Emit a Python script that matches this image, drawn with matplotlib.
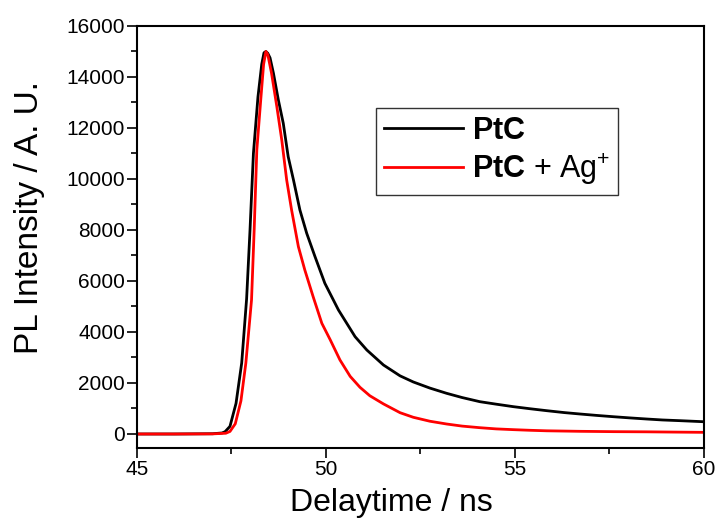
import matplotlib
matplotlib.use("Agg")
import matplotlib.pyplot as plt
from matplotlib.ticker import MultipleLocator

# Values
t_ptc = [45.0, 46.0, 47.0, 47.25, 47.33, 47.46, 47.62, 47.77, 47.90, 47.99, 48.08,
         48.20, 48.30, 48.36, 48.41, 48.46, 48.52, 48.61, 48.74, 48.87, 49.00,
         49.14, 49.31, 49.49, 49.71, 49.97, 50.33, 50.77, 51.08, 51.52, 51.96,
         52.31, 52.75, 53.19, 53.60, 54.07, 54.50, 54.96, 55.40, 55.84, 56.30,
         56.72, 57.15, 57.60, 58.05, 58.48, 58.90, 59.37, 59.98]
i_ptc = [0, 0, 10, 40, 90, 300, 1200, 2784, 5300, 8000, 11000,
         13216, 14500, 14950, 15000, 14930, 14750, 14145, 13098, 12184, 10875,
         9961, 8784, 7871, 6953, 5910, 4863, 3816, 3294, 2706, 2280,
         2040, 1800, 1596, 1430, 1267, 1170, 1071, 990, 914, 840,
         784, 730, 678, 630, 588, 550, 522, 482]

t_ag = [45.0, 46.0, 47.0, 47.35, 47.46, 47.60, 47.75, 47.88, 48.03, 48.10, 48.17,
        48.28, 48.35, 48.41, 48.46, 48.56, 48.70, 48.83, 48.96, 49.09, 49.27,
        49.44, 49.66, 49.89, 50.11, 50.37, 50.64, 50.90, 51.16, 51.52, 51.96,
        52.31, 52.75, 53.19, 53.60, 54.07, 54.50, 54.96, 55.40, 55.84, 56.72,
        57.60, 58.48, 59.20, 59.98]
i_ag = [0, 0, 5, 30, 100, 400, 1300, 2784, 5255, 8000, 11137,
        13216, 14500, 15000, 14880, 14145, 12835, 11529, 9961, 8784, 7345,
        6431, 5385, 4341, 3700, 2902, 2260, 1830, 1500, 1180, 835,
        655, 500, 392, 310, 247, 200, 170, 145, 125, 105,
        92, 85, 75, 65]

plt.rcParams["font.family"] = ["Liberation Sans", "DejaVu Sans"]
plt.rcParams["mathtext.fontset"] = "custom"
plt.rcParams["mathtext.rm"] = "Liberation Sans"
plt.rcParams["mathtext.bf"] = "Liberation Sans:bold"

fig = plt.figure(figsize=(7.21, 5.24), dpi=100)
ax = fig.add_axes([0.19, 0.145, 0.7864, 0.8054])

ax.plot(t_ptc, i_ptc, color="black", lw=2.0, label=r"$\mathbf{PtC}$")
ax.plot(t_ag, i_ag, color="red", lw=2.0, label=r"$\mathbf{PtC}$ + Ag$^{+}$")

ax.set_xlim(45, 60)
ax.set_ylim(-550, 16000)
ax.xaxis.set_major_locator(MultipleLocator(5))
ax.xaxis.set_minor_locator(MultipleLocator(2.5))
ax.yaxis.set_major_locator(MultipleLocator(2000))
ax.yaxis.set_minor_locator(MultipleLocator(1000))
ax.tick_params(which="both", direction="out", top=False, right=False,
               width=1.2, labelsize=15)
ax.tick_params(which="major", length=7, pad=1.5)
ax.tick_params(which="minor", length=4)
for s in ax.spines.values():
    s.set_linewidth(1.5)

ax.set_xlabel("Delaytime / ns", fontsize=23)
ax.xaxis.set_label_coords(0.448, -0.095)
ax.set_ylabel("PL Intensity / A. U.", fontsize=24)
ax.yaxis.set_label_coords(-0.163, 0.547)

leg = ax.legend(loc="upper left", bbox_to_anchor=(0.4215, 0.806),
                fontsize=22, handlelength=2.6, handletextpad=0.3,
                borderaxespad=0, fancybox=False, edgecolor="#333333",
                framealpha=1, borderpad=0.25, labelspacing=0.2)
leg.get_frame().set_linewidth(1.0)

fig.savefig("out.png", dpi=100)
